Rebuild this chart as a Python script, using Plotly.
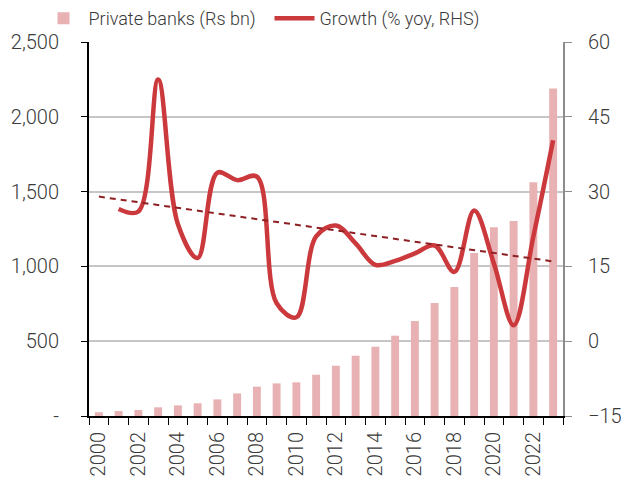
import plotly.graph_objects as go

# Private sector bank figures, 2000-2023
years = [str(y) for y in range(2000, 2024)]
private_banks = [25, 33, 40, 58, 71, 85, 111, 151, 196, 218, 225, 276,
                 336, 403, 463, 537, 635, 755, 862, 1090, 1261, 1303, 1562, 2190]
growth_years = years[1:]
growth = [26.5, 26.0, 52.5, 23.5, 16.7, 33.8, 32.3, 33.0, 7.6, 4.8, 21.0,
          23.2, 19.6, 15.3, 16.1, 17.6, 19.2, 13.9, 26.2, 15.6, 3.2, 21.0, 40.3]
trend_years = ["2000", "2023"]
trend = [29.0, 16.0]

left_ticks = [0, 500, 1000, 1500, 2000, 2500]
left_labels = ["-", "500", "1,000", "1,500", "2,000", "2,500"]
right_ticks = [-15, 0, 15, 30, 45, 60]
x_labels = [y if int(y) % 2 == 0 else "" for y in years]

font = dict(family="Roboto", size=20, color="#3A3A3A", weight=300)
legend_font = dict(family="Roboto", size=18, color="#3A3A3A", weight=300)

fig = go.Figure()
fig.add_trace(go.Bar(
    x=years, y=private_banks, name="Private banks (Rs bn)",
    marker=dict(color="#E8B1B3", line=dict(width=0)), yaxis="y",
    legend="legend",
))
fig.add_trace(go.Scatter(
    x=growth_years, y=growth, name="Growth (% yoy, RHS)", mode="lines",
    line=dict(color="#CB393D", width=4.5, shape="spline", smoothing=1.0),
    yaxis="y2", legend="legend2",
))
fig.add_trace(go.Scatter(
    x=trend_years, y=trend, mode="lines", showlegend=False,
    line=dict(color="#8E1F22", width=2, dash="6px,5px"), yaxis="y2",
))

legend_common = dict(orientation="h", y=1.0, xref="container", yref="container",
                     xanchor="left", yanchor="top", font=legend_font, itemwidth=40,
                     bgcolor="rgba(0,0,0,0)")

fig.update_layout(
    width=626, height=480,
    margin=dict(l=89, r=63, t=42, b=64, autoexpand=False),
    paper_bgcolor="white", plot_bgcolor="white",
    font=font,
    bargap=0.6,
    showlegend=True,
    legend=dict(x=0.0615, **legend_common),
    legend2=dict(x=0.4305, **legend_common),
    xaxis=dict(
        type="category", tickmode="array", tickvals=years, ticktext=x_labels,
        tickson="boundaries", tickangle=-90, ticks="outside", ticklen=7,
        tickcolor="black", showline=True, linecolor="black", linewidth=2,
        showgrid=False, range=[-0.5, 23.5], tickfont=font, ticklabelstandoff=6,
    ),
    yaxis=dict(
        range=[0, 2500], tickmode="array", tickvals=left_ticks, ticktext=left_labels,
        ticks="outside", ticklen=6, tickcolor="black", showline=True,
        linecolor="black", linewidth=2, showgrid=True, gridcolor="#C6C6C6",
        gridwidth=1.5, zeroline=False, tickfont=font, ticklabelstandoff=18,
    ),
    yaxis2=dict(
        range=[-15, 60], tickmode="array", tickvals=right_ticks,
        overlaying="y", side="right", ticks="outside", ticklen=7,
        tickcolor="#8C8C8C", showline=True, linecolor="#8C8C8C", linewidth=2,
        showgrid=False, zeroline=False, tickfont=font, ticklabelstandoff=12,
    ),
)

fig.write_html("out.html")
